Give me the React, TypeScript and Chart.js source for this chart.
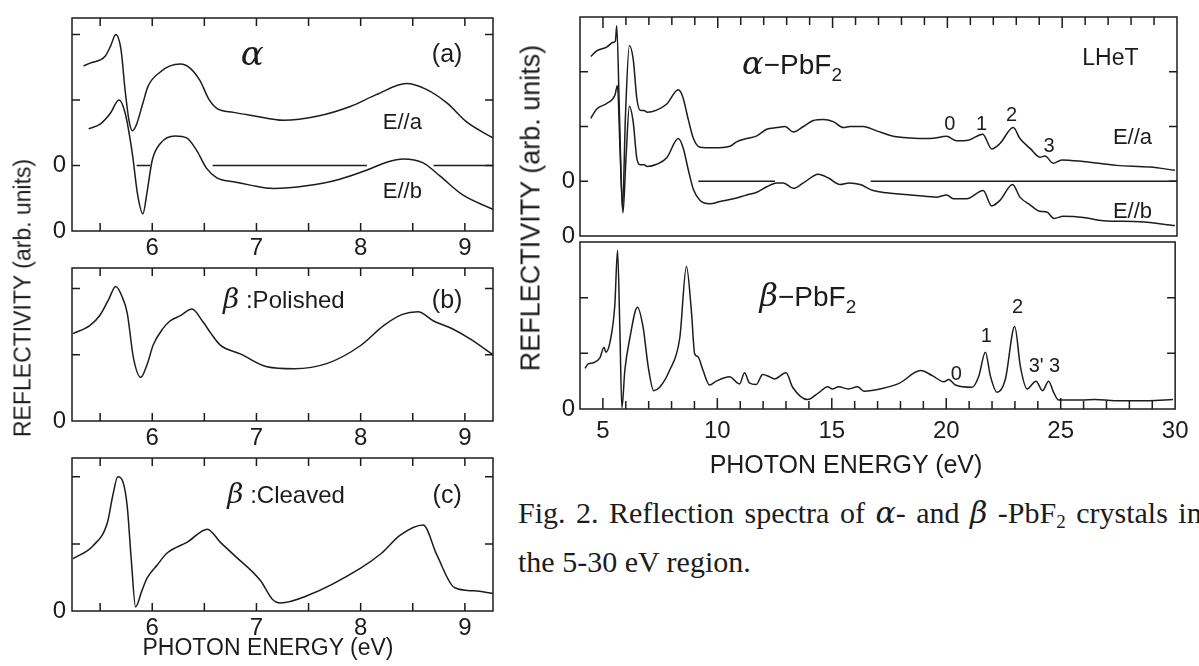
import React, { useEffect, useRef } from 'react';
import { Chart, registerables } from 'chart.js';

Chart.register(...registerables);

const INK = '#1c1c1c';
const SANS = '"Liberation Sans", Arial, Helvetica, sans-serif';
const GREEK = '"DejaVu Serif", "Liberation Serif", serif';
const SERIF = '"Liberation Serif", "Times New Roman", serif';

// ---------------- DATA ----------------
// Panel (a): alpha-PbF2, 5-9 eV
const A_EA_X = [5.34, 5.42, 5.5, 5.55, 5.6, 5.65, 5.7, 5.74, 5.78, 5.81, 5.85, 5.91, 5.96, 6.08, 6.17, 6.27, 6.36, 6.46, 6.54, 6.62, 6.78, 6.97, 7.26, 7.58, 7.9, 8.15, 8.44, 8.63, 8.83, 9.02, 9.27];
const A_EA_Y = [2.52, 2.57, 2.61, 2.67, 2.82, 3.0, 2.77, 2.14, 1.66, 1.53, 1.63, 1.95, 2.21, 2.43, 2.52, 2.55, 2.49, 2.29, 2.02, 1.87, 1.81, 1.76, 1.69, 1.75, 1.9, 2.08, 2.25, 2.16, 1.95, 1.66, 1.42];
const A_EB_X = [5.39, 5.5, 5.6, 5.68, 5.74, 5.81, 5.86, 5.91, 5.95, 6.0, 6.08, 6.22, 6.33, 6.43, 6.52, 6.62, 6.78, 6.94, 7.16, 7.48, 7.8, 8.06, 8.25, 8.41, 8.6, 8.76, 8.98, 9.27];
const A_EB_Y = [1.56, 1.63, 1.8, 2.0, 1.8, 1.17, 0.55, 0.26, 0.59, 1.08, 1.34, 1.45, 1.42, 1.22, 0.96, 0.81, 0.75, 0.7, 0.65, 0.69, 0.79, 0.93, 1.05, 1.1, 1.04, 0.84, 0.55, 0.33];
const A_ZERO_SEGS = [[5.85, 5.98], [6.58, 8.06], [8.7, 9.27]];
const A_ZERO_LEVEL = 1;

// Panel (b): beta polished
const B_X = [5.24, 5.4, 5.5, 5.58, 5.65, 5.71, 5.76, 5.82, 5.89, 5.95, 6.01, 6.1, 6.17, 6.27, 6.38, 6.49, 6.56, 6.65, 6.85, 7.1, 7.36, 7.68, 8.0, 8.22, 8.4, 8.55, 8.7, 8.87, 9.05, 9.27];
const B_Y = [1.32, 1.44, 1.6, 1.83, 2.03, 1.88, 1.63, 0.95, 0.66, 0.85, 1.15, 1.39, 1.51, 1.59, 1.69, 1.49, 1.33, 1.15, 1.01, 0.82, 0.79, 0.87, 1.14, 1.44, 1.61, 1.65, 1.51, 1.4, 1.24, 1.0];

// Panel (c): beta cleaved
const C_X = [5.24, 5.43, 5.57, 5.62, 5.67, 5.72, 5.76, 5.8, 5.84, 5.9, 5.95, 6.05, 6.14, 6.34, 6.53, 6.65, 6.78, 7.04, 7.15, 7.23, 7.49, 8.0, 8.2, 8.38, 8.6, 8.73, 8.9, 9.09, 9.27];
const C_Y = [0.78, 0.97, 1.32, 1.71, 2.0, 1.92, 1.56, 0.74, 0.06, 0.3, 0.49, 0.69, 0.86, 1.03, 1.22, 1.03, 0.84, 0.45, 0.18, 0.12, 0.23, 0.64, 0.86, 1.13, 1.28, 0.84, 0.35, 0.3, 0.26];

// Right upper: alpha-PbF2, 4-30 eV
const U_EA_X = [4.47, 4.73, 5.16, 5.45, 5.54, 5.6, 5.72, 5.85, 5.98, 6.15, 6.32, 6.47, 6.61, 6.79, 6.93, 7.34, 7.78, 8.28, 8.47, 8.72, 8.94, 9.23, 9.81, 10.53, 10.82, 11.26, 11.7, 12.13, 12.57, 12.93, 13.29, 13.73, 14.16, 14.6, 15.03, 15.47, 15.76, 16.34, 16.92, 17.65, 18.37, 19.24, 19.97, 20.4, 20.91, 21.54, 21.93, 22.29, 22.87, 23.16, 23.6, 24.03, 24.25, 24.61, 24.98, 25.92, 27.37, 28.83, 29.91];
const U_EA_Y = [3.28, 3.38, 3.45, 3.54, 3.56, 3.84, 2.2, 0.5, 2.2, 3.48, 3.22, 2.53, 2.3, 2.29, 2.26, 2.3, 2.41, 2.67, 2.55, 2.12, 1.78, 1.62, 1.61, 1.64, 1.72, 1.78, 1.83, 1.95, 1.98, 2.0, 1.9, 2.0, 2.11, 2.13, 2.09, 1.98, 2.0, 2.0, 1.92, 1.82, 1.79, 1.78, 1.82, 1.74, 1.75, 1.86, 1.59, 1.69, 1.98, 1.78, 1.6, 1.44, 1.46, 1.33, 1.39, 1.36, 1.29, 1.26, 1.2];
const U_EB_X = [4.47, 4.73, 5.16, 5.52, 5.63, 5.75, 5.87, 6.0, 6.15, 6.32, 6.47, 6.61, 6.79, 6.93, 7.34, 7.78, 8.28, 8.5, 8.72, 8.94, 9.23, 9.66, 10.1, 10.68, 11.26, 11.7, 12.13, 12.57, 12.86, 13.29, 13.73, 14.38, 14.82, 15.32, 15.73, 16.2, 16.77, 17.36, 18.66, 19.54, 19.97, 20.26, 20.84, 21.56, 21.93, 22.29, 22.84, 23.16, 23.6, 24.03, 24.33, 24.64, 25.05, 25.92, 26.79, 28.39, 29.91];
const U_EB_Y = [2.15, 2.32, 2.42, 2.57, 2.75, 1.5, 0.42, 1.4, 2.37, 2.07, 1.43, 1.3, 1.3, 1.27, 1.31, 1.43, 1.78, 1.6, 1.2, 0.85, 0.65, 0.59, 0.63, 0.68, 0.75, 0.8, 0.9, 0.97, 0.97, 0.87, 0.97, 1.13, 1.06, 0.94, 0.97, 0.94, 0.83, 0.79, 0.74, 0.71, 0.75, 0.68, 0.68, 0.83, 0.55, 0.65, 0.94, 0.71, 0.57, 0.45, 0.44, 0.32, 0.36, 0.34, 0.28, 0.26, 0.19];
const U_ZERO_SEGS = [[9.15, 12.49], [16.66, 30]];
const U_ZERO_LEVEL = 1;

// Right lower: beta-PbF2, 4-30 eV
const L_B_X = [4.22, 4.36, 4.58, 4.87, 5.05, 5.13, 5.31, 5.52, 5.64, 5.74, 5.83, 5.96, 6.18, 6.51, 6.76, 6.98, 7.22, 7.48, 7.92, 8.36, 8.65, 8.87, 9.01, 9.15, 9.37, 9.66, 9.95, 10.53, 10.97, 11.19, 11.4, 11.7, 11.98, 12.28, 12.49, 13.0, 13.29, 13.94, 14.45, 14.82, 15.03, 15.29, 15.73, 16.12, 16.41, 17.21, 17.94, 18.88, 19.39, 19.9, 20.11, 20.4, 21.13, 21.42, 21.71, 21.93, 22.22, 22.58, 22.99, 23.24, 23.53, 23.92, 24.21, 24.47, 24.69, 24.91, 25.92, 26.5, 27.37, 28.83, 29.91];
const L_B_Y = [0.73, 0.81, 0.83, 0.92, 1.11, 1.02, 1.2, 1.86, 2.85, 1.46, 0.02, 0.7, 1.28, 1.83, 1.46, 0.76, 0.33, 0.39, 0.7, 1.28, 2.56, 1.74, 0.99, 0.94, 0.7, 0.43, 0.5, 0.58, 0.45, 0.65, 0.47, 0.44, 0.62, 0.58, 0.54, 0.65, 0.39, 0.17, 0.3, 0.4, 0.36, 0.4, 0.36, 0.4, 0.32, 0.37, 0.46, 0.69, 0.6, 0.49, 0.53, 0.43, 0.39, 0.59, 1.02, 0.59, 0.3, 0.53, 1.48, 0.76, 0.36, 0.5, 0.33, 0.5, 0.3, 0.16, 0.16, 0.17, 0.15, 0.15, 0.17];

// Tick values
const LEFT_X_LABELS = [6, 7, 8, 9];
const LEFT_X_MARKS = [5.5, 6, 6.5, 7, 7.5, 8, 8.5, 9];
const RIGHT_X_LABELS = [5, 10, 15, 20, 25, 30];
const RIGHT_X_MARKS = [5, 6, 7, 8, 9, 10, 11, 12, 13, 14, 15, 16, 17, 18, 19, 20, 21, 22, 23, 24, 25, 26, 27, 28, 29];
const RIGHT_X_MAJOR = [5, 10, 15, 20, 25];

// ---------------- helpers ----------------
const fnt = (size: number, fam: string = SANS, style: string = '') => `${style} ${size}px ${fam}`.trim();

function pts(xs: number[], ys: number[]) {
  return xs.map((x, i) => ({ x, y: ys[i] }));
}
function segPts(segs: number[][], level: number) {
  const out: any[] = [];
  segs.forEach(([a, b], i) => {
    if (i) out.push({ x: a, y: null });
    out.push({ x: a, y: level }, { x: b, y: level });
  });
  return out;
}

type Seg = { t: string; font: string; dy?: number };
type Lbl = { x: number; y: number; align: 'left' | 'center'; segs: Seg[] };

const A_LABELS: Lbl[] = [
  { x: 6.96, y: 2.53, align: 'center', segs: [{ t: 'α', font: fnt(34, GREEK, 'italic') }] },
  { x: 8.83, y: 2.58, align: 'center', segs: [{ t: '(a)', font: fnt(25) }] },
  { x: 8.4, y: 1.56, align: 'center', segs: [{ t: 'E//a', font: fnt(22) }] },
  { x: 8.4, y: 0.5, align: 'center', segs: [{ t: 'E//b', font: fnt(22) }] },
];
const B_LABELS: Lbl[] = [
  { x: 6.68, y: 1.71, align: 'left', segs: [{ t: 'β', font: fnt(28, GREEK, 'italic') }, { t: ' :Polished', font: fnt(24) }] },
  { x: 8.83, y: 1.71, align: 'center', segs: [{ t: '(b)', font: fnt(25) }] },
];
const C_LABELS: Lbl[] = [
  { x: 6.72, y: 1.61, align: 'left', segs: [{ t: 'β', font: fnt(28, GREEK, 'italic') }, { t: ' :Cleaved', font: fnt(24) }] },
  { x: 8.83, y: 1.61, align: 'center', segs: [{ t: '(c)', font: fnt(25) }] },
];
const U_LABELS: Lbl[] = [
  { x: 11.06, y: 2.96, align: 'left', segs: [{ t: 'α', font: fnt(32, GREEK, 'italic') }, { t: '−PbF', font: fnt(28) }, { t: '2', font: fnt(19), dy: 7 }] },
  { x: 27.1, y: 3.13, align: 'center', segs: [{ t: 'LHeT', font: fnt(23) }] },
  { x: 28.06, y: 1.68, align: 'center', segs: [{ t: 'E//a', font: fnt(22) }] },
  { x: 28.06, y: 0.33, align: 'center', segs: [{ t: 'E//b', font: fnt(22) }] },
  { x: 20.11, y: 1.94, align: 'center', segs: [{ t: '0', font: fnt(20) }] },
  { x: 21.49, y: 1.94, align: 'center', segs: [{ t: '1', font: fnt(20) }] },
  { x: 22.79, y: 2.1, align: 'center', segs: [{ t: '2', font: fnt(20) }] },
  { x: 24.43, y: 1.54, align: 'center', segs: [{ t: '3', font: fnt(20) }] },
];
const L_LABELS: Lbl[] = [
  { x: 11.84, y: 1.85, align: 'left', segs: [{ t: 'β', font: fnt(32, GREEK, 'italic') }, { t: '−PbF', font: fnt(28) }, { t: '2', font: fnt(19), dy: 7 }] },
  { x: 23.12, y: 1.72, align: 'center', segs: [{ t: '2', font: fnt(20) }] },
  { x: 21.75, y: 1.2, align: 'center', segs: [{ t: '1', font: fnt(20) }] },
  { x: 23.93, y: 0.66, align: 'center', segs: [{ t: "3'", font: fnt(20) }] },
  { x: 24.73, y: 0.66, align: 'center', segs: [{ t: '3', font: fnt(20) }] },
  { x: 20.44, y: 0.52, align: 'center', segs: [{ t: '0', font: fnt(20) }] },
];

type Panel = {
  left: number; top: number; width: number; height: number;
  area: { left: number; top: number; right: number; bottom: number };
  xMin: number; xMax: number; yMin: number; yMax: number;
  xLabels: number[] | null; xPad: number;
  yLabels: number[]; yPad: number;
  series: any[][];
  zero?: any[];
  xMarks: number[]; xMajor: number[]; xTop: boolean; xBottom: boolean;
  yMarks: number[];
  labels: Lbl[];
};

const PANELS: Panel[] = [
  {
    left: 0, top: 0, width: 500, height: 262,
    area: { left: 72, top: 7, right: 493, bottom: 231 },
    xMin: 5.23, xMax: 9.27, yMin: 0, yMax: 3.25,
    xLabels: LEFT_X_LABELS, xPad: 5.5, yLabels: [0, 1], yPad: 6,
    series: [pts(A_EA_X, A_EA_Y), pts(A_EB_X, A_EB_Y)],
    zero: segPts(A_ZERO_SEGS, A_ZERO_LEVEL),
    xMarks: LEFT_X_MARKS, xMajor: [], xTop: true, xBottom: true,
    yMarks: [1, 2, 3], labels: A_LABELS,
  },
  {
    left: 0, top: 250, width: 500, height: 205,
    area: { left: 72, top: 264, right: 493, bottom: 421 },
    xMin: 5.23, xMax: 9.27, yMin: 0, yMax: 2.31,
    xLabels: LEFT_X_LABELS, xPad: 5.5, yLabels: [0], yPad: 6,
    series: [pts(B_X, B_Y)],
    xMarks: LEFT_X_MARKS, xMajor: [], xTop: true, xBottom: true,
    yMarks: [1, 2], labels: B_LABELS,
  },
  {
    left: 0, top: 440, width: 500, height: 226,
    area: { left: 72, top: 454, right: 493, bottom: 611 },
    xMin: 5.23, xMax: 9.27, yMin: 0, yMax: 2.28,
    xLabels: LEFT_X_LABELS, xPad: 5.5, yLabels: [0], yPad: 6,
    series: [pts(C_X, C_Y)],
    xMarks: LEFT_X_MARKS, xMajor: [], xTop: true, xBottom: true,
    yMarks: [1, 2], labels: C_LABELS,
  },
  {
    left: 500, top: 0, width: 699, height: 262,
    area: { left: 580, top: 5, right: 1177, bottom: 236 },
    xMin: 4, xMax: 30, yMin: 0, yMax: 4,
    xLabels: null, xPad: 0, yLabels: [0, 1], yPad: 5,
    series: [pts(U_EA_X, U_EA_Y), pts(U_EB_X, U_EB_Y)],
    zero: segPts(U_ZERO_SEGS, U_ZERO_LEVEL),
    xMarks: RIGHT_X_MARKS, xMajor: RIGHT_X_MAJOR, xTop: true, xBottom: false,
    yMarks: [1, 2, 3], labels: U_LABELS,
  },
  {
    left: 500, top: 225, width: 699, height: 255,
    area: { left: 580, top: 236, right: 1177, bottom: 409 },
    xMin: 4, xMax: 30, yMin: 0, yMax: 3,
    xLabels: RIGHT_X_LABELS, xPad: 10.5, yLabels: [0], yPad: 5,
    series: [pts(L_B_X, L_B_Y)],
    xMarks: RIGHT_X_MARKS, xMajor: RIGHT_X_MAJOR, xTop: false, xBottom: true,
    yMarks: [1, 2], labels: L_LABELS,
  },
];

function makeFrame(p: Panel) {
  return {
    id: 'frame',
    afterDraw(chart: any) {
      const { ctx, chartArea: a } = chart;
      const xs = chart.scales.x;
      const ys = chart.scales.y;
      ctx.save();
      ctx.strokeStyle = INK;
      ctx.lineWidth = 1.5;
      ctx.strokeRect(a.left, a.top, a.right - a.left, a.bottom - a.top);
      ctx.beginPath();
      for (const v of p.xMarks) {
        const px = xs.getPixelForValue(v);
        const len = p.xMajor.includes(v) ? 11 : 8;
        if (p.xTop) { ctx.moveTo(px, a.top); ctx.lineTo(px, a.top + len); }
        if (p.xBottom) { ctx.moveTo(px, a.bottom); ctx.lineTo(px, a.bottom - len); }
      }
      for (const v of p.yMarks) {
        const py = ys.getPixelForValue(v);
        ctx.moveTo(a.left, py); ctx.lineTo(a.left + 8, py);
        ctx.moveTo(a.right, py); ctx.lineTo(a.right - 8, py);
      }
      ctx.stroke();
      ctx.fillStyle = INK;
      ctx.textBaseline = 'alphabetic';
      ctx.textAlign = 'left';
      for (const l of p.labels) {
        let w = 0;
        for (const s of l.segs) { ctx.font = s.font; w += ctx.measureText(s.t).width; }
        let x = xs.getPixelForValue(l.x) - (l.align === 'center' ? w / 2 : 0);
        const y = ys.getPixelForValue(l.y);
        for (const s of l.segs) {
          ctx.font = s.font;
          ctx.fillText(s.t, x, y + (s.dy || 0));
          x += ctx.measureText(s.t).width;
        }
      }
      ctx.restore();
    },
  };
}

function buildConfig(p: Panel): any {
  const datasets: any[] = p.series.map((s) => ({
    data: s, borderColor: INK, borderWidth: 1.5, pointRadius: 0, fill: false,
    cubicInterpolationMode: 'monotone', spanGaps: false,
  }));
  if (p.zero) {
    datasets.push({ data: p.zero, borderColor: INK, borderWidth: 1.4, pointRadius: 0, fill: false, tension: 0, spanGaps: false });
  }
  const tickFont = { family: SANS, size: 24, lineHeight: 1 };
  return {
    type: 'line',
    data: { datasets },
    options: {
      animation: false,
      responsive: false,
      maintainAspectRatio: false,
      events: [],
      layout: { padding: { left: 0, top: p.area.top - p.top, right: p.left + p.width - p.area.right, bottom: 0 } },
      plugins: { legend: { display: false }, tooltip: { enabled: false }, title: { display: false } },
      scales: {
        x: {
          type: 'linear', min: p.xMin, max: p.xMax,
          grid: { display: false, drawTicks: false }, border: { display: false },
          ticks: { display: !!p.xLabels, font: tickFont, color: INK, padding: p.xPad, maxRotation: 0, minRotation: 0, autoSkip: false },
          afterBuildTicks: (ax: any) => { ax.ticks = (p.xLabels || RIGHT_X_LABELS).map((v) => ({ value: v })); },
          afterFit: (ax: any) => { ax.height = p.top + p.height - p.area.bottom; },
        },
        y: {
          type: 'linear', min: p.yMin, max: p.yMax,
          grid: { display: false, drawTicks: false }, border: { display: false },
          ticks: { font: tickFont, color: INK, padding: p.yPad, callback: () => '0' },
          afterBuildTicks: (ax: any) => { ax.ticks = p.yLabels.map((v) => ({ value: v })); },
          afterFit: (ax: any) => { ax.width = p.area.left - p.left; },
        },
      },
    },
    plugins: [makeFrame(p)],
  };
}

function PanelChart({ p }: { p: Panel }) {
  const ref = useRef<HTMLCanvasElement>(null);
  useEffect(() => {
    const chart = new Chart(ref.current as HTMLCanvasElement, buildConfig(p));
    return () => chart.destroy();
  }, [p]);
  return (
    <canvas
      ref={ref}
      width={p.width}
      height={p.height}
      style={{ position: 'absolute', left: p.left, top: p.top, width: p.width, height: p.height }}
    />
  );
}

function Txt({ cx, cy, size, rotate, children, family }: any) {
  return (
    <div
      style={{
        position: 'absolute', left: cx, top: cy, whiteSpace: 'nowrap', lineHeight: 1,
        fontFamily: family || SANS, fontSize: size, color: INK,
        transform: `translate(-50%, -50%)${rotate ? ' rotate(-90deg)' : ''}`,
      }}
    >
      {children}
    </div>
  );
}

export default function App() {
  const greek = { fontFamily: GREEK, fontStyle: 'italic' as const, fontSize: 30 };
  const capStyle = { position: 'absolute' as const, left: 518, whiteSpace: 'nowrap' as const, lineHeight: 1, fontFamily: SERIF, fontSize: 30, color: INK };
  return (
    <div style={{ position: 'absolute', left: 0, top: 0, width: 1199, height: 666, overflow: 'hidden', background: '#fff' }}>
      {PANELS.map((p, i) => <PanelChart key={i} p={p} />)}
      <Txt cx={23} cy={298} size={23} rotate>REFLECTIVITY (arb. units)</Txt>
      <Txt cx={268} cy={647} size={23}>PHOTON ENERGY (eV)</Txt>
      <Txt cx={531} cy={208} size={27} rotate>REFLECTIVITY (arb. units)</Txt>
      <Txt cx={846} cy={464} size={25}>PHOTON ENERGY (eV)</Txt>
      <div style={{ ...capStyle, top: 498, wordSpacing: 3 }}>
        Fig. 2. Reflection spectra of <span style={greek}>α</span>- and <span style={greek}>β</span> -PbF<span style={{ fontSize: 19, position: 'relative', top: 5 }}>2</span> crystals in
      </div>
      <div style={{ ...capStyle, top: 547 }}>
        the 5-30 eV region.
      </div>
    </div>
  );
}
